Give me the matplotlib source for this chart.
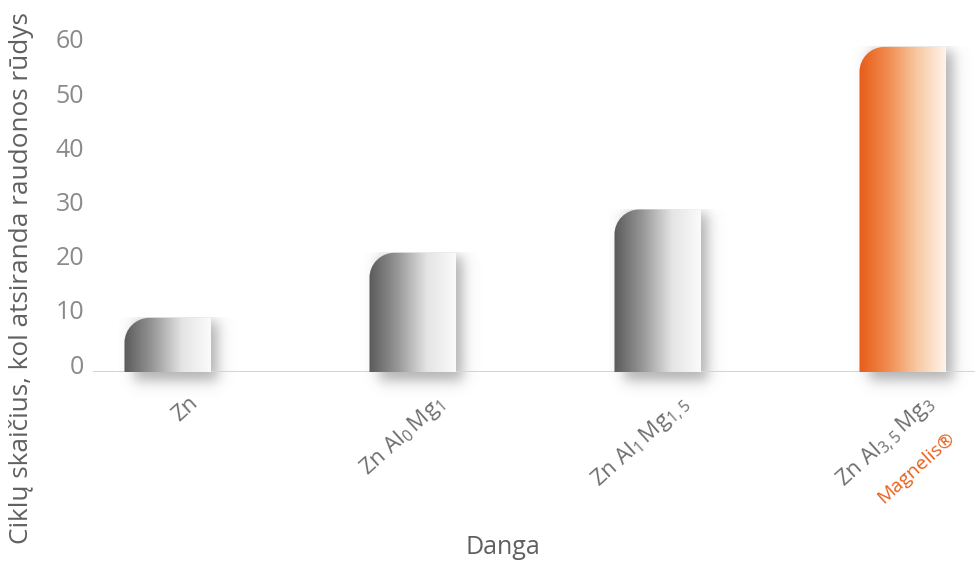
import numpy as np
import matplotlib.pyplot as plt
import matplotlib.transforms as transforms
from matplotlib.path import Path
from matplotlib.patches import PathPatch
from matplotlib.colors import LinearSegmentedColormap

plt.rcParams['font.family'] = ['Open Sans', 'DejaVu Sans']
plt.rcParams['mathtext.fontset'] = 'custom'
plt.rcParams['mathtext.rm'] = 'Open Sans'
plt.rcParams['mathtext.it'] = 'Open Sans'

# data
categories = ['Zn', r'Zn Al$_\mathrm{0}\,$Mg$_\mathrm{1}$',
              r'Zn Al$_\mathrm{1}\,$Mg$_\mathrm{1,5}$',
              r'Zn Al$_\mathrm{3,5}\,$Mg$_\mathrm{3}$']
brand = 'Magnelis®'
values = [10, 22, 30, 60]
yticks = [0, 10, 20, 30, 40, 50, 60]
ylabel = 'Ciklų skaičius, kol atsiranda raudonos rūdys'
xlabel = 'Danga'

fig = plt.figure(figsize=(9.75, 5.69), dpi=100)
ax = fig.add_axes([93/975, 197/569, 882/975, 0.619])
ax.set_xlim(-0.306, 3.294)
ax.set_ylim(0, 65)
for s in ax.spines.values():
    s.set_visible(False)
ax.set_xticks([])
ax.set_yticks([])

# pixel size of one data unit
px_x = 882 / 3.6
px_y = 0.619 * 569 / 65

gray = LinearSegmentedColormap.from_list('g', ['#5a5a5a', '#989898', '#e4e4e4', '#fbfbfb'])
orange = LinearSegmentedColormap.from_list('o', ['#e85c18', '#f08c50', '#f8c8a2', '#fff4ea'])

def sig(t):
    return 1 / (1 + np.exp(-t))

w = 0.355
for i, v in enumerate(values):
    x0, x1 = i - w/2, i + w/2
    # soft shadow
    sx0, sx1 = x0 - 5/px_x, x1 + 30/px_x
    sy0, sy1 = -25/px_y, v
    gx = np.linspace(sx0, sx1, 200)
    gy = np.linspace(sy0, sy1, 200)
    X, Y = np.meshgrid(gx, gy)
    soft = 4.0
    a = (sig(((X - x0) * px_x - 10) / soft) * sig(((x1 - X) * px_x + 7) / soft) *
         sig(((Y) * px_y + 9) / soft) * sig(((v - Y) * px_y - 4) / soft))
    rgba = np.zeros(X.shape + (4,))
    rgba[..., :3] = 0.45
    rgba[..., 3] = 0.55 * a
    ax.imshow(rgba, extent=(sx0, sx1, sy0, sy1), origin='lower', aspect='auto',
              zorder=1, clip_on=False, interpolation='bilinear')

    # bar with rounded top-left corner
    rx = 25 / px_x
    ry = 25 / px_y
    k = 0.5523
    verts = [(x0, 0), (x1, 0), (x1, v), (x0 + rx, v),
             (x0 + rx * (1 - k), v), (x0, v - ry * (1 - k)), (x0, v - ry),
             (x0, 0)]
    codes = [Path.MOVETO, Path.LINETO, Path.LINETO, Path.LINETO,
             Path.CURVE4, Path.CURVE4, Path.CURVE4, Path.CLOSEPOLY]
    patch = PathPatch(Path(verts, codes), facecolor='none', edgecolor='none')
    ax.add_patch(patch)
    grad = np.linspace(0, 1, 256).reshape(1, -1)
    im = ax.imshow(grad, extent=(x0, x1, 0, v), aspect='auto',
                   cmap=orange if i == len(values) - 1 else gray, zorder=3)
    im.set_clip_path(patch)

ax.set_xlim(-0.306, 3.294)
ax.set_ylim(0, 65)
ax.axhline(0, color='#dcd6c0', lw=1.5, zorder=2)

# y tick labels
ytrans = transforms.blended_transform_factory(ax.transAxes, ax.transData)
yoff = transforms.ScaledTranslation(-9/100, 5/100, fig.dpi_scale_trans)
for t in yticks:
    ax.text(0, t, str(t), transform=ytrans + yoff, ha='right', va='center',
            fontsize=18, color='#8a8a8a')

# x tick labels
for i, lab in enumerate(categories):
    off = transforms.ScaledTranslation(20/100, -20/100, fig.dpi_scale_trans)
    ax.text(i, 0, lab, transform=ax.transData + off, rotation=42,
            rotation_mode='anchor', ha='right', va='top', fontsize=16,
            color='#6e6e6e', clip_on=False)
off = transforms.ScaledTranslation(43/100, -57/100, fig.dpi_scale_trans)
ax.text(len(values) - 1, 0, brand, transform=ax.transData + off, rotation=42,
        rotation_mode='anchor', ha='right', va='top', fontsize=14,
        color='#e8601c', clip_on=False)

fig.text(22/975, 1 - 278/569, ylabel, rotation=90, ha='center', va='center',
         fontsize=18.8, color='#606060')
fig.text(503/975, 1 - 548/569, xlabel, ha='center', va='center',
         fontsize=18, color='#606060')

fig.savefig('out.png', dpi=100)
